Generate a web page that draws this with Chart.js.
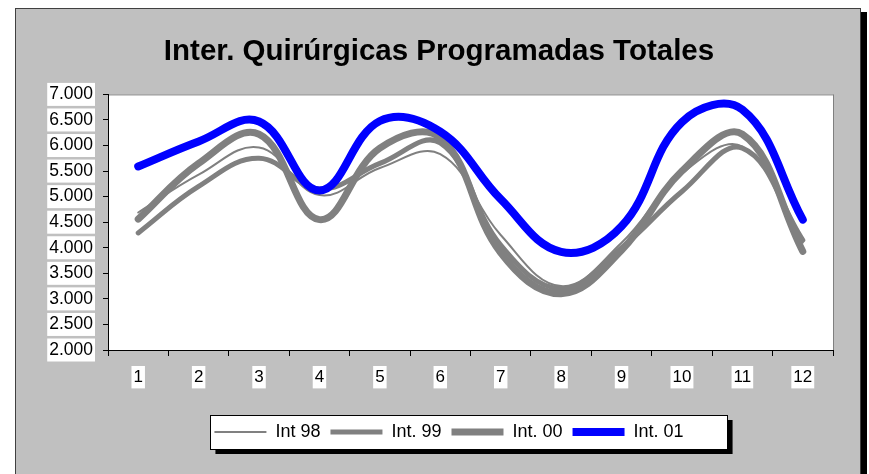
<!DOCTYPE html>
<html>
<head>
<meta charset="utf-8">
<script src="https://cdn.jsdelivr.net/npm/chart.js@4.4.1/dist/chart.umd.min.js"></script>
<style>
  html, body { margin: 0; padding: 0; background: #ffffff; }
  canvas { display: block; }
</style>
</head>
<body>
<canvas id="chartInter" width="869" height="474"></canvas>
<script>
'use strict';

// datos
const meses = ['1', '2', '3', '4', '5', '6', '7', '8', '9', '10', '11', '12'];
const int98 = [4690, 5430, 5960, 5030, 5560, 5830, 4250, 3250, 4100, 5450, 5980, 4100];
const int99 = [4290, 5200, 5750, 5150, 5650, 6050, 4050, 3200, 4000, 5100, 5950, 4150];
const int00 = [4560, 5650, 6220, 4550, 5950, 6150, 3900, 3100, 3950, 5500, 6220, 3930];
const int01 = [5590, 6080, 6470, 5120, 6480, 6270, 4950, 3920, 4420, 6460, 6700, 4550];
const yTicks = [2000, 2500, 3000, 3500, 4000, 4500, 5000, 5500, 6000, 6500, 7000];

function miles(v) {
  return String(v).replace(/\B(?=(\d{3})+(?!\d))/g, '.');
}

// marco gris, area blanca y caja de leyenda estilo Excel
const marcoPlugin = {
  id: 'marco',
  beforeDraw(chart) {
    const ctx = chart.ctx;
    const area = chart.chartArea;
    ctx.save();
    ctx.fillStyle = '#ffffff';
    ctx.fillRect(0, 0, chart.width, chart.height);
    ctx.fillStyle = '#000000';
    ctx.fillRect(861, 12, 6, chart.height);
    ctx.fillStyle = '#c0c0c0';
    ctx.fillRect(15, 8, 846, chart.height);
    ctx.strokeStyle = '#404040';
    ctx.lineWidth = 1;
    ctx.strokeRect(15.5, 8.5, 845, chart.height + 5);

    ctx.fillStyle = '#ffffff';
    ctx.fillRect(area.left, area.top, area.right - area.left, area.bottom - area.top);
    ctx.strokeStyle = '#808080';
    ctx.strokeRect(area.left + 0.5, area.top + 0.5, area.right - area.left, area.bottom - area.top);

    const boxes = chart.legend.legendHitBoxes;
    if (boxes && boxes.length) {
      let l = Infinity, r = -Infinity, t = Infinity, b = -Infinity;
      boxes.forEach(h => {
        l = Math.min(l, h.left); r = Math.max(r, h.left + h.width);
        t = Math.min(t, h.top); b = Math.max(b, h.top + h.height);
      });
      l -= 4; r += 44; t -= 8; b += 8;
      ctx.fillStyle = '#000000';
      ctx.fillRect(l + 5, t + 5, r - l, b - t);
      ctx.fillStyle = '#ffffff';
      ctx.fillRect(l, t, r - l, b - t);
      ctx.strokeStyle = '#000000';
      ctx.strokeRect(Math.round(l) + 0.5, Math.round(t) + 0.5, Math.round(r - l), Math.round(b - t));
    }
    ctx.restore();
  }
};

function serie(label, data, color, width, order) {
  return {
    label: label,
    data: data,
    borderColor: color,
    backgroundColor: color,
    borderWidth: width,
    borderCapStyle: 'round',
    borderJoinStyle: 'round',
    pointRadius: 0,
    pointHoverRadius: 0,
    pointStyle: 'line',
    tension: 0.4,
    fill: false,
    order: order
  };
}

Chart.defaults.font.family = '"Liberation Sans", Arial, sans-serif';
Chart.defaults.color = '#000000';

let chartObject = {
  type: 'line',
  data: {
    labels: meses,
    datasets: [
      serie('Int 98', int98, '#808080', 2, 3),
      serie('Int. 99', int99, '#808080', 5, 2),
      serie('Int. 00', int00, '#808080', 7, 1),
      serie('Int. 01', int01, '#0000ff', 8, 0)
    ]
  },
  options: {
    responsive: false,
    animation: false,
    devicePixelRatio: 1,
    layout: { padding: { left: 45, right: 36, top: 20, bottom: 23 } },
    plugins: {
      title: {
        display: true,
        text: 'Inter. Quirúrgicas Programadas Totales',
        color: '#000000',
        font: { size: 29.5, weight: 'bold' },
        padding: { top: 14, bottom: 25 }
      },
      legend: {
        position: 'bottom',
        labels: {
          usePointStyle: true,
          pointStyle: 'line',
          pointStyleWidth: 52,
          padding: 10,
          color: '#000000',
          font: { size: 18 },
          sort: (a, b) => a.datasetIndex - b.datasetIndex
        }
      },
      tooltip: { enabled: false }
    },
    scales: {
      x: {
        offset: true,
        grid: { offset: true, drawOnChartArea: false, drawTicks: true, tickLength: 6, color: '#000000' },
        border: { display: true, color: '#000000', width: 1 },
        ticks: {
          font: { size: 17 },
          color: '#000000',
          padding: 11,
          maxRotation: 0,
          showLabelBackdrop: true,
          backdropColor: '#ffffff',
          backdropPadding: { x: 2, y: 1 }
        },
        afterFit: s => { s.height = 63; }
      },
      y: {
        min: 2000,
        max: 7000,
        afterBuildTicks: s => { s.ticks = yTicks.map(v => ({ value: v })); },
        grid: { drawOnChartArea: false, drawTicks: true, tickLength: 5, color: '#000000' },
        border: { display: true, color: '#000000', width: 1 },
        ticks: {
          font: { size: 17.5 },
          color: '#000000',
          padding: 10,
          callback: v => miles(v),
          showLabelBackdrop: true,
          backdropColor: '#ffffff',
          backdropPadding: { x: 2, y: 1 }
        },
        afterFit: s => { s.width = 63; }
      }
    }
  },
  plugins: [marcoPlugin, {
    id: 'moverLeyenda',
    afterLayout(chart) {
      chart.legend.left += 10;
      chart.legend.right += 10;
    }
  }]
};

let ctx = document.getElementById('chartInter').getContext('2d');
let myChart = new Chart(ctx, chartObject);
</script>
</body>
</html>
